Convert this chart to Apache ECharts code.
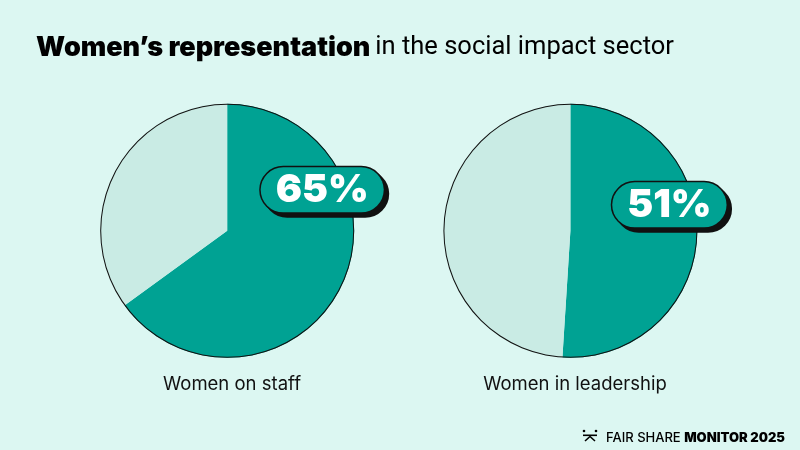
<!DOCTYPE html>
<html lang="en">
<head>
  <meta charset="UTF-8">
  <title>Women's representation</title>
  <style type="text/css">
    html, body { margin: 0; padding: 0; background: #dcf7f2; }
    #main { width: 800px; height: 450px; }
  </style>
</head>
<body>
  <div id="main"></div>
  <script src="https://cdn.jsdelivr.net/npm/echarts@6/dist/echarts.min.js"></script>
  <script type="text/javascript">
    // data
    var chartNames = ['Women on staff', 'Women in leadership'];
    var womenShare = [65, 51];
    var sliceNames = ['Women', 'Other'];

    var teal = '#00a293';
    var pale = '#c9ebe4';
    var centers = [['28.4%', '51.3%'], ['71.3%', '51.3%']];
    var badgeOffset = [[95, -41], [99, -26]];

    var myChart = echarts.init(document.getElementById('main'));

    var series = [];
    womenShare.forEach(function (v, i) {
      series.push({
        name: chartNames[i],
        type: 'pie',
        center: centers[i],
        radius: [0, 127],
        startAngle: 90,
        clockwise: true,
        silent: true,
        itemStyle: { borderWidth: 0 },
        labelLine: { show: false },
        label: {
          show: true,
          position: 'center',
          offset: badgeOffset[i],
          formatter: '{c}%',
          color: '#fff',
          fontFamily: 'Inter',
          fontWeight: 900,
          fontSize: 39,
          backgroundColor: teal,
          borderColor: '#111',
          borderWidth: 1.5,
          borderRadius: 26,
          padding: [4, 15, 2, 15],
          shadowColor: '#111',
          shadowBlur: 0,
          shadowOffsetX: 4,
          shadowOffsetY: 4
        },
        data: [
          { name: sliceNames[0], value: v, itemStyle: { color: teal } },
          { name: sliceNames[1], value: 100 - v, itemStyle: { color: pale }, label: { show: false } }
        ]
      });
      // thin outline round each pie
      series.push({
        type: 'pie',
        center: centers[i],
        radius: [126, 127],
        silent: true,
        label: { show: false },
        labelLine: { show: false },
        itemStyle: { color: '#111', borderWidth: 0 },
        data: [{ value: 1 }]
      });
    });

    var option = {
      backgroundColor: '#dcf7f2',
      animation: false,
      title: [{
        left: 31,
        top: 29,
        text: '{b|Women’s representation} {n|in the social impact sector}',
        textStyle: {
          rich: {
            b: { fontFamily: 'Inter', fontWeight: 900, fontSize: 27, color: '#000' },
            n: { fontFamily: 'Liberation Sans Narrow, Roboto', fontWeight: 400, fontSize: 25.5, color: '#000' }
          }
        }
      }, {
        left: 227, top: 370, textAlign: 'center',
        text: chartNames[0],
        textStyle: { fontFamily: 'Inter', fontWeight: 400, fontSize: 18.5, color: '#111' }
      }, {
        left: 570, top: 370, textAlign: 'center',
        text: chartNames[1],
        textStyle: { fontFamily: 'Inter', fontWeight: 400, fontSize: 18.5, color: '#111' }
      }, {
        right: 10, top: 427,
        text: '{n|FAIR SHARE }{b|MONITOR 2025}',
        textStyle: {
          rich: {
            n: { fontFamily: 'Inter', fontWeight: 500, fontSize: 13, color: '#000' },
            b: { fontFamily: 'Inter', fontWeight: 900, fontSize: 13, color: '#000' }
          }
        }
      }],
      graphic: [
        { type: 'circle', shape: { cx: 584, cy: 431, r: 1.3 }, style: { fill: '#000' } },
        { type: 'circle', shape: { cx: 596, cy: 431, r: 1.3 }, style: { fill: '#000' } },
        { type: 'rect', shape: { x: 583, y: 434.5, width: 14, height: 1.6 }, style: { fill: '#000' } },
        { type: 'polyline', shape: { points: [[585, 441], [590, 436.5], [595, 441]] }, style: { stroke: '#000', lineWidth: 1.6, fill: null } }
      ],
      series: series
    };

    myChart.setOption(option);
  </script>
</body>
</html>
